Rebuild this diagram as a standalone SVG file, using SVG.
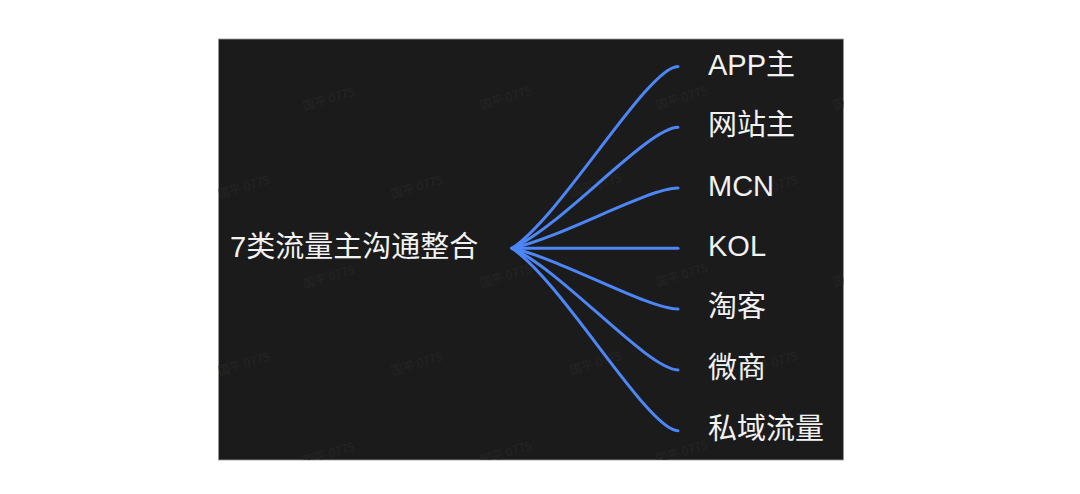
<svg xmlns="http://www.w3.org/2000/svg" width="1080" height="494" viewBox="0 0 1080 494">
  <defs>
    <style>
      .bg { fill: #1b1b1b; stroke: #9a9a9a; stroke-width: 0.8; }
      .wm { font-family: "Noto Sans CJK SC", "Noto Sans", sans-serif; font-size: 12px; fill: #252525; text-anchor: middle; }
      .lbl { font-family: "Liberation Sans", "Noto Sans CJK SC", sans-serif; font-size: 29px; fill: #f2f2f2; }
      .conn path { fill: none; stroke: #4d86f6; stroke-width: 3; stroke-linecap: round; }
    </style>
    <clipPath id="clip"><rect x="218.5" y="39" width="625" height="421"/></clipPath>
  </defs>
  <rect width="1080" height="494" fill="#ffffff"/>
  <rect class="bg" x="218.5" y="39" width="625" height="421"/>
  <g id="watermarks" clip-path="url(#clip)">
    <text class="wm" transform="translate(330,103) rotate(-17)">国平 0775</text>
    <text class="wm" transform="translate(507,102) rotate(-17)">国平 0775</text>
    <text class="wm" transform="translate(683,102) rotate(-17)">国平 0775</text>
    <text class="wm" transform="translate(860,102) rotate(-17)">国平 0775</text>
    <text class="wm" transform="translate(245,191) rotate(-17)">国平 0775</text>
    <text class="wm" transform="translate(418,191) rotate(-17)">国平 0775</text>
    <text class="wm" transform="translate(597,189) rotate(-17)">国平 0775</text>
    <text class="wm" transform="translate(773,191) rotate(-17)">国平 0775</text>
    <text class="wm" transform="translate(330,281) rotate(-17)">国平 0775</text>
    <text class="wm" transform="translate(507,280) rotate(-17)">国平 0775</text>
    <text class="wm" transform="translate(683,279) rotate(-17)">国平 0775</text>
    <text class="wm" transform="translate(860,279) rotate(-17)">国平 0775</text>
    <text class="wm" transform="translate(245,368) rotate(-17)">国平 0775</text>
    <text class="wm" transform="translate(418,368) rotate(-17)">国平 0775</text>
    <text class="wm" transform="translate(597,367) rotate(-17)">国平 0775</text>
    <text class="wm" transform="translate(773,367) rotate(-17)">国平 0775</text>
    <text class="wm" transform="translate(330,458) rotate(-17)">国平 0775</text>
    <text class="wm" transform="translate(507,457) rotate(-17)">国平 0775</text>
    <text class="wm" transform="translate(683,456) rotate(-17)">国平 0775</text>
  </g>
  <g id="connectors" class="conn">
    <path d="M512,248.3 C561.8,215.6 648,66.5 678,66.5"/>
    <path d="M512,248.3 C561.8,226.5 648,127.3 678,127.3"/>
    <path d="M512,248.3 C561.8,237.5 648,188.1 678,188.1"/>
    <path d="M512,248.3 L678,248.3"/>
    <path d="M512,248.3 C561.8,259.2 648,309.1 678,309.1"/>
    <path d="M512,248.3 C561.8,270.1 648,369.9 678,369.9"/>
    <path d="M512,248.3 C561.8,281 648,430.7 678,430.7"/>
  </g>
  <g id="root"><text class="lbl" x="230" y="257">7类流量主沟通整合</text></g>
  <g id="n-app"><text class="lbl" x="708" y="74.5">APP主</text></g>
  <g id="n-web"><text class="lbl" x="708" y="135.3">网站主</text></g>
  <g id="n-mcn"><text class="lbl" x="708" y="196.1">MCN</text></g>
  <g id="n-kol"><text class="lbl" x="708" y="256.3">KOL</text></g>
  <g id="n-taoke"><text class="lbl" x="708" y="317.1">淘客</text></g>
  <g id="n-weishang"><text class="lbl" x="708" y="377.9">微商</text></g>
  <g id="n-private"><text class="lbl" x="708" y="438.7">私域流量</text></g>
</svg>
